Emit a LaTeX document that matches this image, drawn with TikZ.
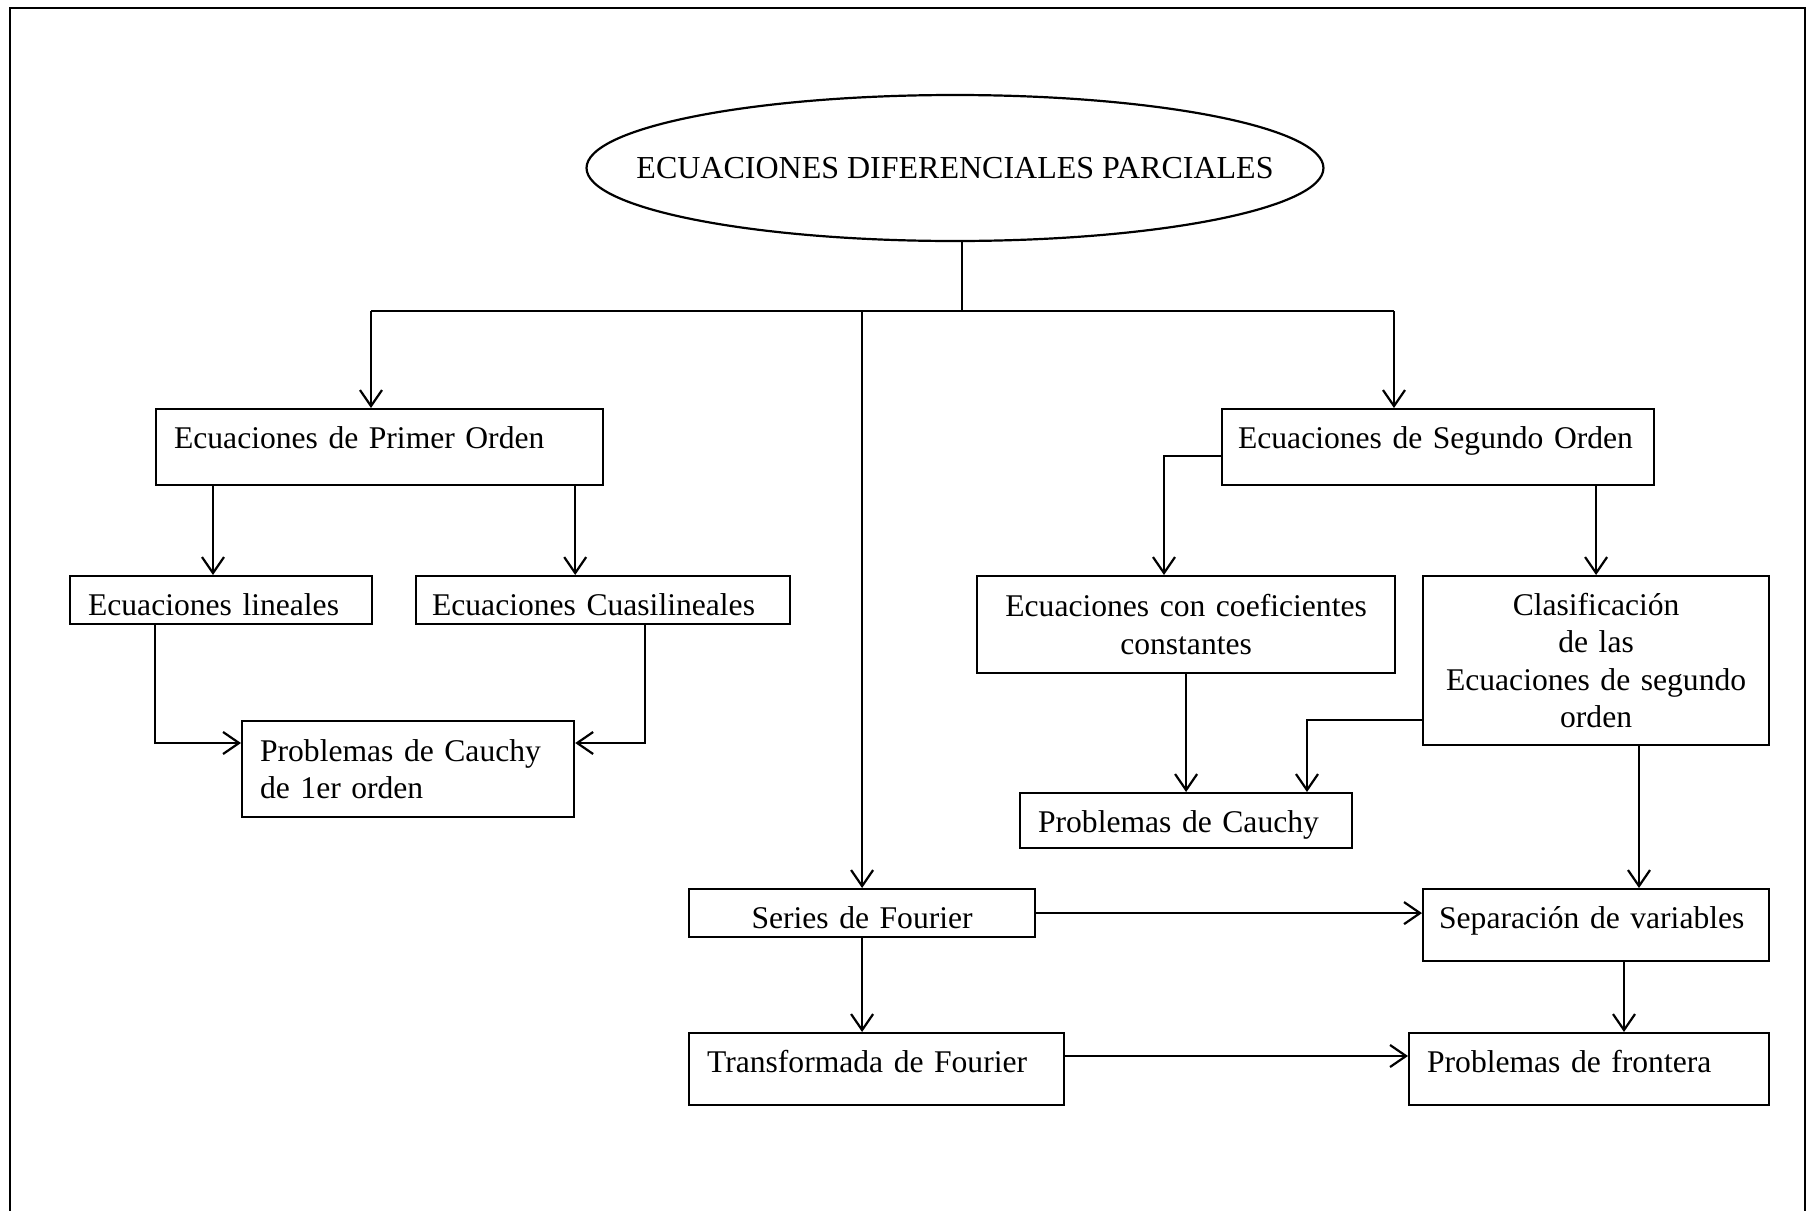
\documentclass[tikz,border=0pt]{standalone}
\usepackage{fontspec}
\setmainfont{Liberation Serif}
\usetikzlibrary{shapes.geometric, calc, arrows.meta}

\tikzset{
  caja/.style={draw, anchor=north west, inner xsep=9pt, inner ysep=0pt, align=left, text height=19.7pt},
  cajac/.style={draw, anchor=north west, inner xsep=9pt, inner ysep=0pt, align=center}
}

\begin{document}
\begin{tikzpicture}[x=0.5pt, y=-0.5pt, line width=1.1pt, >={Straight Barb[length=8pt,width=11pt]},
                    font=\fontsize{15.8}{18.8}\selectfont]
            \useasboundingbox (0,0) rectangle (1812,1211);
            \draw (10,1211) -- (10,8) -- (1805,8) -- (1805,1211);

            \node[draw, ellipse, inner xsep=-29pt, inner ysep=0pt, minimum width=368pt, minimum height=73pt,
                  font=\fontsize{16}{19}\selectfont]
                (edp) at (955,168) {ECUACIONES DIFERENCIALES PARCIALES};

            \node[caja, text width=205.5pt, text depth=18.3pt] (primer) at (155,408) {Ecuaciones de Primer Orden};
            \node[caja, inner xsep=8pt, text width=200pt, text depth=18.3pt] (segundo) at (1221,408) {Ecuaciones de Segundo Orden};
            \node[caja, text width=133pt, text depth=4.3pt] (lineales) at (69,575) {Ecuaciones lineales};
            \node[caja, inner xsep=8pt, text width=171pt, text depth=4.3pt] (cuasi) at (415,575) {Ecuaciones Cuasilineales};
            \node[cajac, align=left, text width=148pt, minimum height=48pt] (cauchy1) at (241,720) {Problemas de Cauchy\\de 1er orden};
            \node[cajac, text width=191pt, minimum height=48.5pt] (coef) at (976,575) {Ecuaciones con coeficientes\\constantes};
            \node[cajac, inner xsep=6pt, text width=161pt, minimum height=84.5pt] (clasif) at (1422,575) {Clasificación\\de las\\Ecuaciones de segundo\\orden};
            \node[caja, text width=148pt, text depth=7.8pt] (cauchy2) at (1019,792) {Problemas de Cauchy};
            \node[caja, align=center, text width=155pt, text depth=4.3pt] (series) at (688,888) {Series de Fourier};
            \node[caja, inner xsep=8pt, text width=157pt, text depth=16.3pt] (sep) at (1422,888) {Separación de variables};
            \node[caja, text width=169.5pt, text depth=16.3pt] (transf) at (688,1032) {Transformada de Fourier};
            \node[caja, text width=162pt, text depth=16.3pt] (front) at (1408,1032) {Problemas de frontera};

            \coordinate (izq) at (371,311);
            \coordinate (der) at (1394,311);
            \draw ($(edp.south)+(7,0)$) coordinate (e1) -- (e1 |- izq);
            \draw (izq) -- (der);
            \draw[->] (izq) -- (izq |- primer.north);
            \draw[->] (der) -- (der |- segundo.north);
            \draw[->] (series.north |- izq) -- (series.north);

            \draw[->] ($(primer.south west)+(58,0)$) coordinate (a1) -- (a1 |- lineales.north);
            \draw[->] ($(primer.south east)+(-29,0)$) coordinate (a2) -- (a2 |- cuasi.north);
            \draw[->] ($(lineales.south west)+(86,0)$) |- ($(cauchy1.north west)+(0,23)$);
            \draw[->] ($(cuasi.south west)+(230,0)$) |- ($(cauchy1.north east)+(0,23)$);

            \draw[->] ($(segundo.north west)+(0,48)$) -| ($(coef.north west)+(188,0)$);
            \draw[->] (segundo.south -| clasif.north) -- (clasif.north);
            \draw[->] (coef.south) -- (cauchy2.north);
            \draw[->] ($(clasif.north west)+(0,145)$) -| ($(cauchy2.north west)+(288,0)$);
            \draw[->] ($(clasif.south west)+(217,0)$) coordinate (a3) -- (a3 |- sep.north);

            \draw[->] (series.east) -- (series.east -| sep.west);
            \draw[->] (series.south) -- (series.south |- transf.north);
            \draw[->] ($(sep.south west)+(202,0)$) coordinate (a4) -- (a4 |- front.north);
            \draw[->] ($(transf.north east)+(0,24)$) coordinate (a5) -- (a5 -| front.west);
      \end{tikzpicture}
\end{document}
